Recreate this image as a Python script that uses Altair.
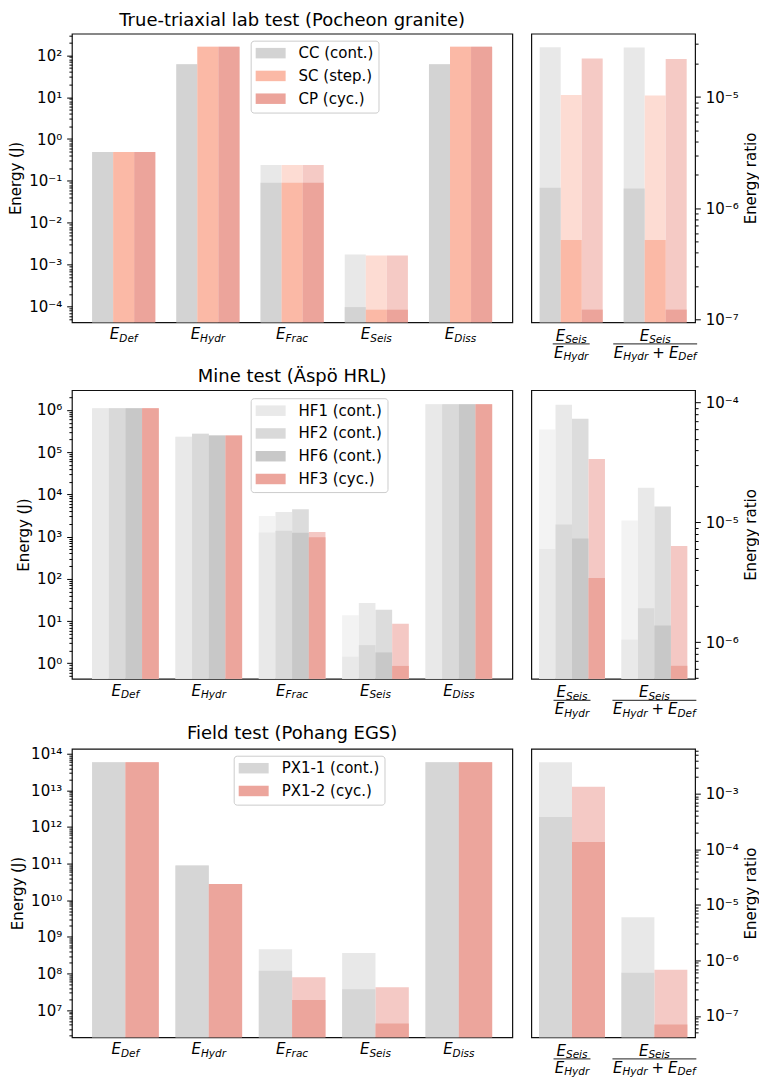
import math
import altair as alt
import pandas as pd

# ---------------- data ----------------
ENERGY_GROUPS = ["Def", "Hydr", "Frac", "Seis", "Diss"]
RATIO_GROUPS = ["r1", "r2"]

# True-triaxial lab test (Pocheon granite)
lab_series = ["CC (cont.)", "SC (step.)", "CP (cyc.)"]
lab_cc_hi = [0.49, 61, 0.24, 1.76e-3, 61]
lab_cc_lo = [0.49, 61, 0.091, 9.8e-5, 61]
lab_sc_hi = [0.49, 158, 0.24, 1.67e-3, 158]
lab_sc_lo = [0.49, 158, 0.091, 8.5e-5, 158]
lab_cp_hi = [0.49, 158, 0.24, 1.67e-3, 158]
lab_cp_lo = [0.49, 158, 0.091, 8.5e-5, 158]
lab_cc_ratio_hi = [2.8e-5, 2.78e-5]
lab_cc_ratio_lo = [1.53e-6, 1.51e-6]
lab_sc_ratio_hi = [1.04e-5, 1.03e-5]
lab_sc_ratio_lo = [5.2e-7, 5.2e-7]
lab_cp_ratio_hi = [2.22e-5, 2.19e-5]
lab_cp_ratio_lo = [1.23e-7, 1.23e-7]

# Mine test (Äspö HRL)
mine_series = ["HF1 (cont.)", "HF2 (cont.)", "HF6 (cont.)", "HF3 (cyc.)"]
mine_hf1_hi = [1.1e6, 2.33e5, 3.1e3, 13.8, 1.36e6]
mine_hf1_lo = [1.1e6, 2.33e5, 1.26e3, 1.43, 1.36e6]
mine_hf2_hi = [1.1e6, 2.74e5, 3.85e3, 26.9, 1.37e6]
mine_hf2_lo = [1.1e6, 2.74e5, 1.38e3, 2.69, 1.37e6]
mine_hf6_hi = [1.1e6, 2.5e5, 4.45e3, 18.5, 1.36e6]
mine_hf6_lo = [1.1e6, 2.5e5, 1.24e3, 1.81, 1.36e6]
mine_hf3_hi = [1.1e6, 2.5e5, 1.28e3, 8.66, 1.36e6]
mine_hf3_lo = [1.1e6, 2.5e5, 965, 0.866, 1.36e6]
mine_hf1_ratio_hi = [5.97e-5, 1.04e-5]
mine_hf1_ratio_lo = [6.0e-6, 1.05e-6]
mine_hf2_ratio_hi = [9.6e-5, 1.95e-5]
mine_hf2_ratio_lo = [9.6e-6, 1.92e-6]
mine_hf6_ratio_hi = [7.35e-5, 1.36e-5]
mine_hf6_ratio_lo = [7.35e-6, 1.38e-6]
mine_hf3_ratio_hi = [3.39e-5, 6.35e-6]
mine_hf3_ratio_lo = [3.43e-6, 6.35e-7]

# Field test (Pohang EGS)
field_series = ["PX1-1 (cont.)", "PX1-2 (cyc.)"]
field_px11_hi = [5.8e13, 8.9e10, 4.6e8, 3.66e8, 5.8e13]
field_px11_lo = [5.8e13, 8.9e10, 1.2e8, 3.75e7, 5.8e13]
field_px12_hi = [5.8e13, 2.78e10, 7.9e7, 4.25e7, 5.8e13]
field_px12_lo = [5.8e13, 2.78e10, 1.89e7, 4.37e6, 5.8e13]
field_px11_ratio_hi = [3.7e-3, 5.96e-6]
field_px11_ratio_lo = [3.8e-4, 6.0e-7]
field_px12_ratio_hi = [1.33e-3, 6.8e-7]
field_px12_ratio_lo = [1.35e-4, 7.0e-8]

# axis limits (log10 exponents)
lab_left_lim = (-4.371, 2.513)
lab_right_lim = (-7.024, -4.431)
mine_left_lim = (-0.368, 6.469)
mine_right_lim = (-6.306, -3.896)
field_left_lim = (6.26, 14.135)
field_right_lim = (-7.385, -2.19)

# colours
lab_solid = ["#d3d3d3", "#fbb9a6", "#eca49b"]
lab_light = ["#e8e8e8", "#fddcd3", "#f5cac5"]
mine_solid = ["#e9e9e9", "#d9d9d9", "#c8c8c8", "#eca59c"]
mine_light = ["#f3f3f3", "#e9e9e9", "#dcdcdc", "#f4c8c4"]
field_solid = ["#d6d6d6", "#eca59c"]
field_light = ["#e8e8e8", "#f4c9c5"]

# ---------------- layout constants ----------------
LW, RW, H = 441, 164, 289
FONT = "DejaVu Sans"
SUP = str.maketrans("0123456789-", "⁰¹²³⁴⁵⁶⁷⁸⁹⁻")
MAJOR_TEST = "abs(log(datum.value)/LN10 - round(log(datum.value)/LN10)) < 0.001"
LEG_PATH = "M-2,-0.7H2V0.7H-2Z"

CW = {'E': .632, 'D': .770, 'e': .615, 'f': .352, 'H': .752, 'y': .592, 'd': .635,
      'r': .411, 'F': .575, 'a': .613, 'c': .550, 'S': .635, 'i': .278, 's': .521, '+': .838}


def long_df(groups, series, his, los):
    rows = []
    for s, hi, lo in zip(series, his, los):
        for g, h, l in zip(groups, hi, lo):
            rows.append({"g": g, "s": s, "hi": h, "lo": l})
    return pd.DataFrame(rows)


def y_axis(lim, orient, title):
    lo, hi = lim
    vals, majors = [], []
    for e in range(math.floor(lo), math.ceil(hi) + 1):
        for m in range(1, 10):
            v = m * 10.0 ** e
            if 10 ** lo <= v <= 10 ** hi:
                vals.append(v)
                if m == 1:
                    majors.append(e)
    expr = "".join(
        f"abs(datum.value / {10.0 ** e!r} - 1) < 1e-6 ? '10{str(e).translate(SUP)}' : "
        for e in majors) + "''"
    kw = dict(values=vals, labelExpr=expr, orient=orient, title=title,
              tickSize={"condition": {"test": MAJOR_TEST, "value": 5.25}, "value": 3},
              labelFontSize={"condition": {"test": MAJOR_TEST, "value": 15}, "value": 0},
              labelOverlap=False, grid=False, domain=False, labelPadding=5,
              titlePadding=5)
    if orient == "right":
        kw.update(titleAngle=270, titleBaseline="top")
    return alt.Axis(**kw)


def math_layers(xenc, g, parts, ybase):
    specs = []
    for t, kind in parts:
        if kind == "E":
            specs.append((t, 15, "italic", 0, CW[t] * 15, 0))
        elif kind == "sub":
            specs.append((t, 10.5, "italic", 2.5, sum(CW[c] for c in t) * 10.5, 0))
        else:
            specs.append((t, 15, "normal", 0, CW[t] * 15, 4))
    total = sum(w + 2 * gap for *_, w, gap in specs)
    cur = -total / 2
    layers = []
    for t, fs, style, dy, w, gap in specs:
        cur += gap
        layers.append(
            alt.Chart(pd.DataFrame({"g": [g]}))
            .mark_text(text=t, align="left", baseline="alphabetic", dx=cur,
                       fontSize=fs, fontStyle=style, font=FONT, color="black")
            .encode(x=xenc, y=alt.value(ybase + dy))
        )
        cur += w + gap
    return layers


def bar_layers(df, groups, series, solid, light, lim, pi, po, axis, legend):
    xenc = alt.X("g:N", scale=alt.Scale(domain=groups, paddingInner=pi, paddingOuter=po),
                 axis=None)
    xo = alt.XOffset("s:N", scale=alt.Scale(domain=series, paddingInner=0, paddingOuter=0))
    ysc = alt.Scale(type="log", domain=[10 ** lim[0], 10 ** lim[1]], nice=False)
    base = alt.Chart(df)
    light_l = base.mark_bar().encode(
        x=xenc, xOffset=xo,
        y=alt.Y("hi:Q", scale=ysc, axis=axis),
        y2=alt.datum(10 ** lim[0]),
        color=alt.Color("s:N", scale=alt.Scale(domain=series, range=light), legend=None),
    )
    solid_l = base.mark_bar().encode(
        x=xenc, xOffset=xo,
        y=alt.Y("lo:Q", scale=ysc, axis=axis),
        y2=alt.datum(10 ** lim[0]),
        color=alt.Color("s:N", scale=alt.Scale(domain=series, range=solid), legend=legend),
    )
    return xenc, [light_l, solid_l]


def row(title, series, e_hi, e_lo, r_hi, r_lo, solid, light, llim, rlim, pi, po_l, po_r,
        leg_x, leg_y):
    dfe = long_df(ENERGY_GROUPS, series, e_hi, e_lo)
    dfr = long_df(RATIO_GROUPS, series, r_hi, r_lo)
    legend = alt.Legend(orient="none", legendX=leg_x, legendY=leg_y, title=None)
    xl, lay_l = bar_layers(dfe, ENERGY_GROUPS, series, solid, light, llim, pi, po_l,
                           y_axis(llim, "left", "Energy (J)"), legend)
    for g in ENERGY_GROUPS:
        lay_l += math_layers(xl, g, [("E", "E"), (g, "sub")], H + 17)
    left = (alt.layer(*lay_l)
            .resolve_scale(color="independent")
            .properties(width=LW, height=H, title=title))

    xr, lay_r = bar_layers(dfr, RATIO_GROUPS, series, solid, light, rlim, pi, po_r,
                           y_axis(rlim, "right", "Energy ratio"), None)
    for g in RATIO_GROUPS:
        lay_r += math_layers(xr, g, [("E", "E"), ("Seis", "sub")], H + 18.3)
    lay_r += math_layers(xr, "r1", [("E", "E"), ("Hydr", "sub")], H + 35.6)
    lay_r += math_layers(xr, "r2", [("E", "E"), ("Hydr", "sub"), ("+", "op"),
                                    ("E", "E"), ("Def", "sub")], H + 35.6)
    for g, ln in zip(RATIO_GROUPS, [37, 84]):
        lay_r.append(
            alt.Chart(pd.DataFrame({"g": [g]}))
            .mark_tick(orient="horizontal", size=ln, thickness=1.2, color="black")
            .encode(x=xr, y=alt.value(H + 21.6))
        )
    right = (alt.layer(*lay_r)
             .resolve_scale(color="independent")
             .properties(width=RW, height=H))
    return (alt.hconcat(left, right, spacing=19, bounds="flush")
            .resolve_scale(x="independent", y="independent", color="independent",
                           xOffset="independent")
            .resolve_legend(color="independent"))


row1 = row("True-triaxial lab test (Pocheon granite)", lab_series,
           [lab_cc_hi, lab_sc_hi, lab_cp_hi], [lab_cc_lo, lab_sc_lo, lab_cp_lo],
           [lab_cc_ratio_hi, lab_sc_ratio_hi, lab_cp_ratio_hi],
           [lab_cc_ratio_lo, lab_sc_ratio_lo, lab_cp_ratio_lo],
           lab_solid, lab_light, lab_left_lim, lab_right_lim, 0.25, 0.24, 0.1, 179, 7)
row2 = row("Mine test (Äspö HRL)", mine_series,
           [mine_hf1_hi, mine_hf2_hi, mine_hf6_hi, mine_hf3_hi],
           [mine_hf1_lo, mine_hf2_lo, mine_hf6_lo, mine_hf3_lo],
           [mine_hf1_ratio_hi, mine_hf2_ratio_hi, mine_hf6_ratio_hi, mine_hf3_ratio_hi],
           [mine_hf1_ratio_lo, mine_hf2_ratio_lo, mine_hf6_ratio_lo, mine_hf3_ratio_lo],
           mine_solid, mine_light, mine_left_lim, mine_right_lim, 0.2, 0.242, 0.094, 179, 8)
row3 = row("Field test (Pohang EGS)", field_series,
           [field_px11_hi, field_px12_hi], [field_px11_lo, field_px12_lo],
           [field_px11_ratio_hi, field_px12_ratio_hi],
           [field_px11_ratio_lo, field_px12_ratio_lo],
           field_solid, field_light, field_left_lim, field_right_lim, 0.2, 0.242, 0.094, 162, 7)

chart = (
    alt.vconcat(row1, row2, row3, spacing=3)
    .resolve_scale(x="independent", y="independent", color="independent",
                   xOffset="independent")
    .resolve_legend(color="independent")
    .properties(padding={"left": 0, "top": 2, "right": 0, "bottom": 0})
    .configure(font=FONT)
    .configure_view(stroke="#111111", strokeWidth=1.2)
    .configure_axis(labelFont=FONT, labelColor="black", tickColor="black",
                    tickWidth=1, titleFontSize=15, titleFont=FONT, titleFontWeight="normal",
                    titleColor="black")
    .configure_title(fontSize=18, font=FONT, fontWeight="normal", color="black", offset=0,
                     anchor="middle")
    .configure_legend(labelFontSize=15, labelFont=FONT, labelColor="black",
                      symbolType=LEG_PATH, symbolSize=225, symbolStrokeWidth=0,
                      padding=5, rowPadding=6.8, labelOffset=20.5, symbolOffset=7.5,
                      fillColor="white", strokeColor="#cccccc", cornerRadius=3,
                      labelLimit=0)
)

chart.save("out.html", embed_options={"renderer": "svg", "actions": False})
